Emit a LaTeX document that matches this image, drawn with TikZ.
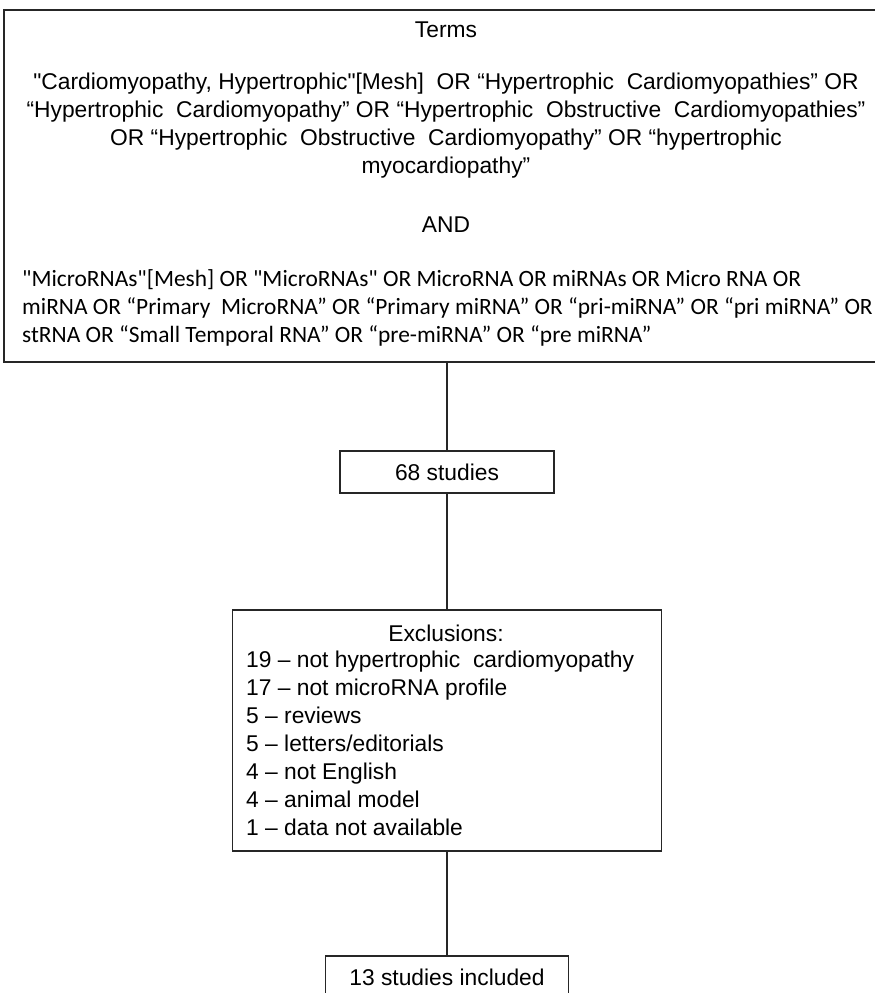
\documentclass[tikz,border=0pt]{standalone}
\usepackage{fontspec}
\setmainfont{Liberation Sans}
\newfontfamily\calibrifont{Carlito}
\usetikzlibrary{positioning}

\begin{document}
\begin{tikzpicture}[x=1pt, y=-1pt,
    stagebox/.style={rectangle, draw=black!85, line width=1.3pt, inner sep=0pt,
                     font=\fontsize{22.8}{28}\selectfont},
    termtext/.style={inner sep=0pt, align=center, font=\fontsize{22.8}{28}\selectfont},
    link/.style={draw=black!85, line width=1.3pt}
]
    \useasboundingbox[fill=white] (0,0) rectangle (875,993);

    \node[stagebox, minimum width=886pt, minimum height=352pt] (terms) at (447,186) {};
    \node[termtext] (termshead) at (446,30) {Terms};
    \node[termtext] (hcmterms) at (446,126) {\textquotedbl Cardiomyopathy, Hypertrophic\textquotedbl[Mesh]\ \ OR “Hypertrophic\ \ Cardiomyopathies” OR\\
        “Hypertrophic\ \ Cardiomyopathy” OR “Hypertrophic\ \ Obstructive\ \ Cardiomyopathies”\\
        OR “Hypertrophic\ \ Obstructive\ \ Cardiomyopathy” OR “hypertrophic\\
        myocardiopathy”};
    \node[termtext] (andword) at (446,225) {AND};
    \node[termtext, anchor=west, align=left, font=\calibrifont\fontsize{23.4}{28}\selectfont] (mirterms) at (22,308)
        {"MicroRNAs"[Mesh] OR "MicroRNAs" OR MicroRNA OR miRNAs OR Micro RNA OR\\
         miRNA OR “Primary\ \ MicroRNA” OR “Primary miRNA” OR “pri-miRNA” OR “pri miRNA” OR\\
         stRNA OR “Small Temporal RNA” OR “pre-miRNA” OR “pre miRNA”};

    \node[stagebox, minimum width=214pt, minimum height=42pt] (found) at (447,472) {68 studies};

    \node[stagebox, minimum width=429pt, minimum height=241pt] (excl) at (447,730.5) {};
    \node[termtext] (exclhead) at (446,633) {Exclusions:};
    \node[termtext, anchor=west, align=left] (excllist) at (246,743.5)
        {19 -- not hypertrophic\ \ cardiomyopathy\\
         17 -- not microRNA profile\\
         5 -- reviews\\
         5 -- letters/editorials\\
         4 -- not English\\
         4 -- animal model\\
         1 -- data not available};

    \node[stagebox, minimum width=243pt, minimum height=42pt] (included) at (447,977) {13 studies included};

    \draw[link] (terms) -- (found);
    \draw[link] (found) -- (excl);
    \draw[link] (excl) -- (included);
\end{tikzpicture}
\end{document}
